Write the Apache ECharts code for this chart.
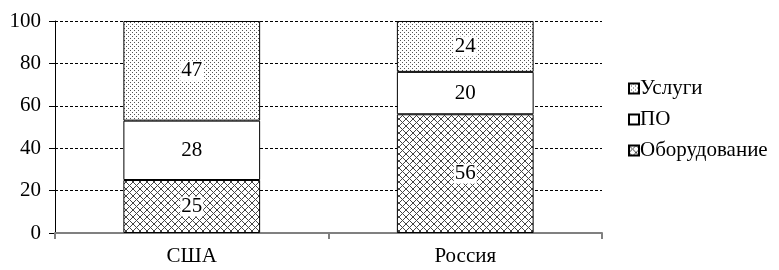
<!DOCTYPE html>
<html><head><meta charset="utf-8">
<script src="https://cdn.jsdelivr.net/npm/echarts@6/dist/echarts.min.js"></script>
<style>html,body{margin:0;padding:0;background:#fff}#c{width:779px;height:270px}</style>
</head><body><div id="c"></div>
<script>
var categories = ['США', 'Россия'];
var equipment = [25, 56];
var software = [28, 20];
var services = [47, 24];
var yTicks = [0, 20, 40, 60, 80, 100];

function dotPattern() {
  var c = document.createElement('canvas'); c.width = 4; c.height = 4;
  var g = c.getContext('2d');
  g.fillStyle = '#fff'; g.fillRect(0, 0, 4, 4);
  g.fillStyle = '#555';
  g.fillRect(0, 0, 1, 1); g.fillRect(2, 2, 1, 1);
  return c;
}
function crossPattern() {
  var s = 7;
  var c = document.createElement('canvas'); c.width = s; c.height = s;
  var g = c.getContext('2d');
  g.fillStyle = '#fff'; g.fillRect(0, 0, s, s);
  g.strokeStyle = '#444'; g.lineWidth = 1;
  g.beginPath();
  g.moveTo(-1, -1); g.lineTo(s + 1, s + 1);
  g.moveTo(s + 1, -1); g.lineTo(-1, s + 1);
  g.stroke();
  return c;
}
var font = '"Liberation Serif", "Times New Roman", serif';
var fs = 21;
var labelStyle = {
  show: true, position: 'inside', color: '#000', fontSize: fs, fontFamily: font,
  backgroundColor: '#fff', padding: [0, 1, 0, 1], lineHeight: 20
};
var chart = echarts.init(document.getElementById('c'), null, {renderer: 'canvas'});
chart.setOption({
  animation: false,
  backgroundColor: '#fff',
  grid: {left: 55, right: 177, top: 21, bottom: 37},
  legend: {
    orient: 'vertical', left: 623, top: 73, itemGap: 10,
    itemWidth: 10, itemHeight: 10, icon: 'rect',
    data: ['Услуги', 'ПО', 'Оборудование'],
    textStyle: {fontFamily: font, fontSize: fs, lineHeight: 21, color: '#000', padding: [0, 0, 0, -4]}
  },
  xAxis: {
    type: 'category', data: categories,
    axisLine: {lineStyle: {color: '#808080', width: 2}},
    axisTick: {show: true, length: 6, lineStyle: {color: '#808080', width: 2}},
    axisLabel: {fontFamily: font, fontSize: fs, color: '#000', margin: 13}
  },
  yAxis: {
    type: 'value', min: 0, max: 100, interval: 20,
    axisLine: {show: true, lineStyle: {color: '#000', width: 1}},
    axisTick: {show: true, length: 6, lineStyle: {color: '#000'}},
    axisLabel: {fontFamily: font, fontSize: fs, color: '#000', margin: 14,
      formatter: function (v) { return yTicks.indexOf(v) >= 0 ? String(v) : ''; }},
    splitLine: {show: true, lineStyle: {color: '#000', type: [3, 2], width: 1}}
  },
  series: [
    {name: 'Оборудование', type: 'bar', stack: 's', barWidth: '50%', data: equipment,
      itemStyle: {color: {image: crossPattern(), repeat: 'repeat'}, borderColor: '#000', borderWidth: 1},
      label: labelStyle},
    {name: 'ПО', type: 'bar', stack: 's', data: software,
      itemStyle: {color: '#fff', borderColor: '#000', borderWidth: 1},
      label: labelStyle},
    {name: 'Услуги', type: 'bar', stack: 's', data: services,
      itemStyle: {color: {image: dotPattern(), repeat: 'repeat'}, borderColor: '#000', borderWidth: 1},
      label: labelStyle}
  ]
});
</script></body></html>
